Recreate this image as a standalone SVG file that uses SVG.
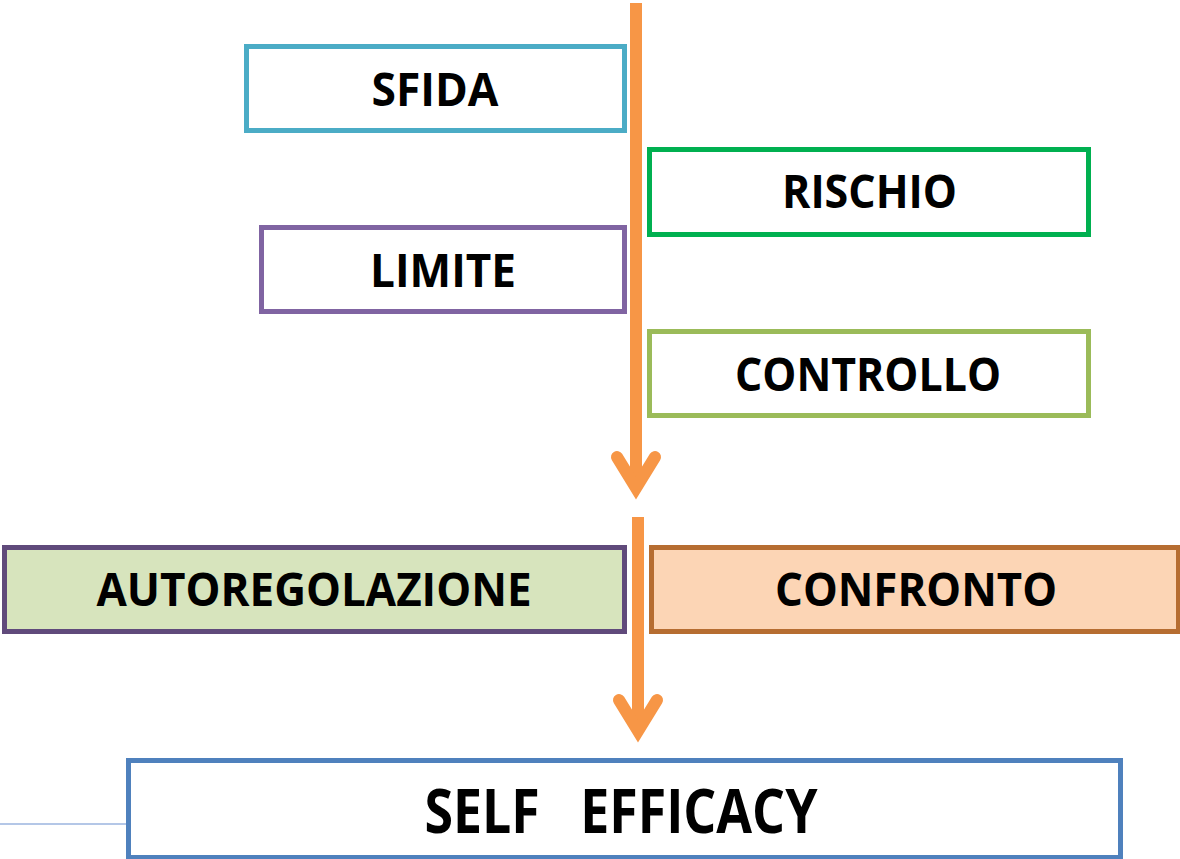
<svg xmlns="http://www.w3.org/2000/svg" width="1180" height="859" viewBox="0 0 1180 859">
<style>
.box{stroke-width:5}
.lbl{font-family:"Open Sans","Liberation Sans",sans-serif;font-weight:bold;font-size:46px;fill:#000;text-anchor:middle}
.big{font-size:60px}
.arr{fill:none;stroke:#f79646;stroke-width:12}
</style>
<rect width="1180" height="859" fill="#fff"/>
<g id="connectors">
<line x1="0" y1="824" x2="127" y2="824" stroke="#b4c7e7" stroke-width="2"/>
<line class="arr" x1="636" y1="3" x2="636" y2="488"/>
<path class="arr" d="M617,457 L636,488 L655,457" stroke-linecap="round" stroke-linejoin="miter" stroke-miterlimit="10"/>
<line class="arr" x1="638" y1="517" x2="638" y2="731"/>
<path class="arr" d="M619,700 L638,731 L657,700" stroke-linecap="round" stroke-linejoin="miter" stroke-miterlimit="10"/>
</g>
<g id="sfida">
<rect class="box" x="246.5" y="46.5" width="378" height="84" fill="#fff" stroke="#4bacc6"/>
<text class="lbl" x="435" y="106" textLength="127" lengthAdjust="spacingAndGlyphs">SFIDA</text>
</g>
<g id="rischio">
<rect class="box" x="649.5" y="149.5" width="439" height="85" fill="#fff" stroke="#00b050"/>
<text class="lbl" x="869.5" y="208" textLength="175" lengthAdjust="spacingAndGlyphs">RISCHIO</text>
</g>
<g id="limite">
<rect class="box" x="261.5" y="227.5" width="363" height="84" fill="#fff" stroke="#8064a2"/>
<text class="lbl" x="443" y="287" textLength="146" lengthAdjust="spacingAndGlyphs">LIMITE</text>
</g>
<g id="controllo">
<rect class="box" x="649.5" y="331.5" width="439" height="84" fill="#fff" stroke="#9bbb59"/>
<text class="lbl" x="868" y="391" textLength="266" lengthAdjust="spacingAndGlyphs">CONTROLLO</text>
</g>
<g id="autoregolazione">
<rect class="box" x="4.5" y="547.5" width="620" height="84" fill="#d7e4bd" stroke="#604a7b"/>
<text class="lbl" x="314" y="606" textLength="435" lengthAdjust="spacingAndGlyphs">AUTOREGOLAZIONE</text>
</g>
<g id="confronto">
<rect class="box" x="651.5" y="547.5" width="527" height="84" fill="#fcd5b5" stroke="#b66d31"/>
<text class="lbl" x="916" y="606" textLength="282" lengthAdjust="spacingAndGlyphs">CONFRONTO</text>
</g>
<g id="self-efficacy">
<rect class="box" x="128.5" y="760.5" width="992" height="97" fill="#fff" stroke="#4f81bd"/>
<text class="lbl big" x="621" y="833" textLength="393" lengthAdjust="spacingAndGlyphs" xml:space="preserve">SELF   EFFICACY</text>
</g>
</svg>
